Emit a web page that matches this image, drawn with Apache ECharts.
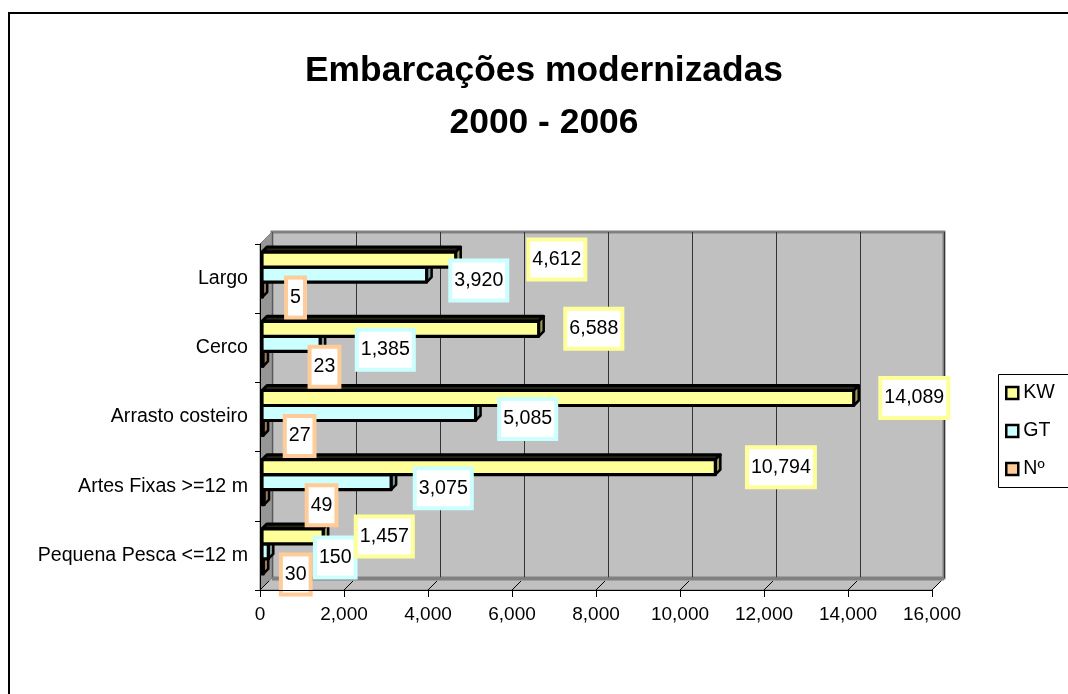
<!DOCTYPE html>
<html lang="pt">
<head>
    <meta charset="UTF-8">
    <script src="https://cdn.jsdelivr.net/npm/echarts@6/dist/echarts.min.js"></script>
    <title>Embarcações modernizadas</title>
    <style>
        html, body { margin: 0; padding: 0; background: #fff; }
        #main { width: 1068px; height: 694px; }
    </style>
</head>
<body>
<div id="main"></div>

<script>
    // categorias, de cima para baixo
    var categorias = ['Largo', 'Cerco', 'Arrasto costeiro', 'Artes Fixas >=12 m', 'Pequena Pesca <=12 m'];
    var kw = [4612, 6588, 14089, 10794, 1457];
    var gt = [3920, 1385, 5085, 3075, 150];
    var num = [5, 23, 27, 49, 30];
    var ticksX = [0, 2000, 4000, 6000, 8000, 10000, 12000, 14000, 16000];

    var fonte = 'Arial, "Liberation Sans", sans-serif';
    var tam = 19.6;

    function milhares(v) {
        return String(v).replace(/\B(?=(\d{3})+(?!\d))/g, ',');
    }

    function escurecer(cor, f) {
        var n = parseInt(cor.slice(1), 16);
        var r = Math.round(((n >> 16) & 255) * f), g = Math.round(((n >> 8) & 255) * f), b = Math.round((n & 255) * f);
        return 'rgb(' + r + ',' + g + ',' + b + ')';
    }

    // posicoes da "caixa" 3D
    var fx = 260, fy = 244, w = 672, h = 346, prof = 12;
    var larg = 15, fundo = 5;

    // no original alguns rotulos foram afastados para nao se sobreporem (px extra, por categoria)
    var afastaRotulo = {
        'KW': [46, 0, 0, 5, 6],
        'GT': [0, 13, 0, 0, 23],
        'Nº': [2, 25, 0, 21, -4]
    };

    // barra 3D: face da frente, topo e lado, desenhados a partir das escalas do eixo
    function serie(nome, dados, cor, k, dist, offY) {
        return {
            name: nome,
            type: 'custom',
            xAxisIndex: 2,
            yAxisIndex: 2,
            z: 3,
            itemStyle: { color: cor, borderColor: '#000', borderWidth: 2 },
            data: dados.map(function (v, i) { return [v, i]; }),
            renderItem: function (params, api) {
                var v = api.value(0);
                var i = api.value(1);
                var p0 = api.coord([0, i]);
                var p1 = api.coord([v, i]);
                var x0 = p0[0], x1 = p1[0];
                var y0 = p0[1] - 1.5 * larg + k * larg;
                var y1 = y0 + larg;
                var d = fundo;
                return {
                    type: 'group',
                    children: [
                        { type: 'polygon',
                          shape: { points: [[x0, y0], [x0 + d, y0 - d], [x1 + d, y0 - d], [x1, y0]] },
                          style: { fill: escurecer(cor, 0.15), stroke: '#000', lineWidth: 3, lineJoin: 'round' } },
                        { type: 'polygon',
                          shape: { points: [[x1, y0], [x1 + d, y0 - d], [x1 + d, y1 - d], [x1, y1]] },
                          style: { fill: escurecer(cor, 0.6), stroke: '#000', lineWidth: 2.5, lineJoin: 'round' } },
                        { type: 'rect',
                          shape: { x: x0, y: y0, width: Math.max(x1 - x0, 0.5), height: larg },
                          style: { fill: cor, stroke: '#000', lineWidth: 3.2, lineJoin: 'round' },
                          textContent: {
                              style: {
                                  text: milhares(v),
                                  fill: '#000',
                                  fontFamily: fonte,
                                  fontSize: tam,
                                  lineHeight: 19,
                                  backgroundColor: '#fff',
                                  borderColor: cor,
                                  borderWidth: 4,
                                  padding: [9, 2, 8, 2]
                              },
                              z2: 50
                          },
                          textConfig: { position: 'right', distance: dist + afastaRotulo[nome][i], offset: [0, offY] }
                        }
                    ]
                };
            }
        };
    }

    var myChart = echarts.init(document.getElementById('main'));

    var option = {
        animation: false,
        title: {
            text: 'Embarcações modernizadas\n2000 - 2006',
            left: 544,
            top: 40,
            textAlign: 'center',
            padding: [5, 0, 5, 0],
            textStyle: {
                fontFamily: fonte,
                fontSize: 35.4,
                fontWeight: 'bold',
                lineHeight: 52,
                color: '#000'
            }
        },
        legend: {
            orient: 'vertical',
            left: 998,
            top: 374,
            data: ['KW', 'GT', 'Nº'],
            icon: 'rect',
            itemWidth: 12,
            itemHeight: 12,
            itemGap: 18,
            padding: [9, 5, 10, 7],
            itemStyle: { borderColor: '#000', borderWidth: 2.5 },
            textStyle: { fontFamily: fonte, fontSize: tam, lineHeight: 19, color: '#000' }
        },
        graphic: [
            // moldura do grafico
            { type: 'rect', z: 10, shape: { x: 9, y: 13, width: 1100, height: 720 },
              style: { fill: null, stroke: '#000', lineWidth: 2 } },
            // caixa da legenda (continua para la da margem direita)
            { type: 'rect', z: 0, shape: { x: 998.5, y: 374.5, width: 120, height: 113 },
              style: { fill: '#fff', stroke: '#000', lineWidth: 1 } },
            // parede esquerda
            { type: 'polygon', z: 1,
              shape: { points: [[fx, fy], [fx + prof, fy - prof], [fx + prof, fy + h - prof], [fx, fy + h]] },
              style: { fill: '#969696', stroke: '#808080', lineWidth: 1 } },
            // chao
            { type: 'polygon', z: 1,
              shape: { points: [[fx, fy + h], [fx + prof, fy + h - prof], [fx + w + prof, fy + h - prof], [fx + w, fy + h]] },
              style: { fill: '#C0C0C0', stroke: '#808080', lineWidth: 1 } },
            { type: 'line', z: 1,
              shape: { x1: fx + prof, y1: fy + h - prof + 1, x2: fx + w + prof, y2: fy + h - prof + 1 },
              style: { stroke: '#808080', lineWidth: 3 } }
        ],
        grid: [
            { left: fx + prof, top: fy - prof, width: w, height: h, show: true,
              backgroundColor: '#C0C0C0', borderColor: '#808080', borderWidth: 3 },
            { left: fx, top: fy, width: w, height: h },
            { left: fx + 2, top: fy - 4, width: w, height: h }
        ],
        xAxis: [
            { gridIndex: 0, type: 'value', min: 0, max: 16000, interval: 2000,
              axisLine: { show: false }, axisTick: { show: false }, axisLabel: { show: false },
              splitLine: { show: true, lineStyle: { color: '#333', width: 1 } } },
            { gridIndex: 1, type: 'value', min: 0, max: 16000, interval: 2000, z: 5,
              axisLine: { show: true, lineStyle: { color: '#000', width: 1 } },
              axisTick: { show: true, length: 7, lineStyle: { color: '#000' } },
              axisLabel: { fontFamily: fonte, fontSize: 19, color: '#000', margin: 15,
                           formatter: function (v) { return milhares(v); } },
              splitLine: { show: false } },
            { gridIndex: 2, type: 'value', min: 0, max: 16000, show: false }
        ],
        yAxis: [
            { gridIndex: 0, type: 'value', show: false },
            { gridIndex: 1, type: 'category', data: categorias, inverse: true, z: 5,
              axisLine: { show: true, lineStyle: { color: '#000', width: 1 } },
              axisTick: { show: true, length: 5, lineStyle: { color: '#000' } },
              axisLabel: { fontFamily: fonte, fontSize: tam, color: '#000', margin: 12 } },
            { gridIndex: 2, type: 'category', data: categorias, inverse: true, show: false }
        ],
        series: [
            // desenhadas de baixo para cima para o topo 3D ficar atras da barra de cima
            serie('Nº', num, '#FFCC99', 2, 22, 8),
            serie('GT', gt, '#CCFFFF', 1, 24, 6),
            serie('KW', kw, '#FFFF99', 0, 27, 0),
            {
                // riscos diagonais do chao
                type: 'custom',
                xAxisIndex: 1,
                yAxisIndex: 1,
                z: 2,
                silent: true,
                data: ticksX,
                renderItem: function (params, api) {
                    var x = api.coord([api.value(0), 0])[0];
                    var y = params.coordSys.y + params.coordSys.height;
                    return {
                        type: 'line',
                        shape: { x1: x, y1: y, x2: x + 9, y2: y - 9 },
                        style: { stroke: '#000', lineWidth: 1 }
                    };
                }
            }
        ]
    };

    myChart.setOption(option);
</script>
</body>
</html>
